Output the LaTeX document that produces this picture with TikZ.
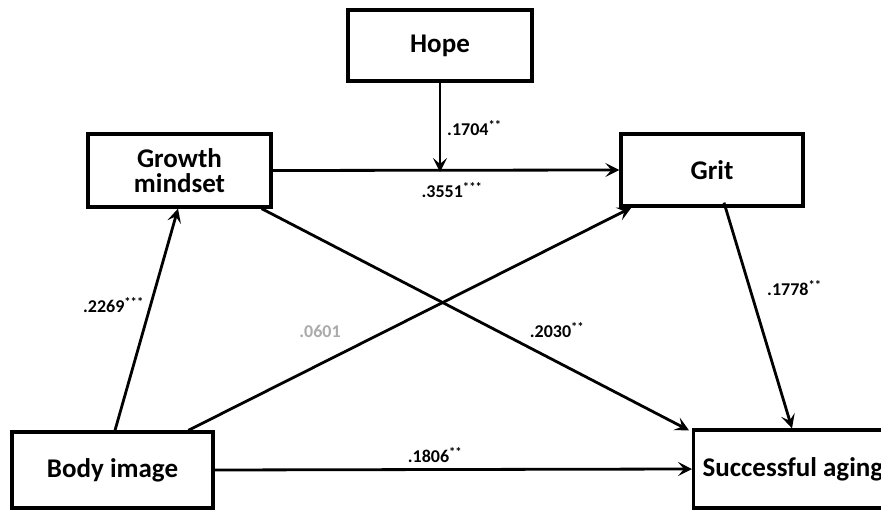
\documentclass[tikz,border=0pt]{standalone}
\usepackage{fontspec}
\setmainfont{Carlito}
\usetikzlibrary{arrows.meta,calc}
\tikzset{
  box/.style={draw, line width=3.3pt, fill=white, inner sep=0pt, align=center,
    font=\fontsize{27}{25}\selectfont\bfseries},
  arr/.style={line width=2.8pt, -{Stealth[length=14pt,width=14pt,inset=6pt]}},
  lab/.style={inner sep=0pt, font=\fontsize{18}{20}\selectfont\bfseries},
  gray lab/.style={lab, text=black!33}
}
\begin{document}
\begin{tikzpicture}[x=1pt,y=-1pt]
\useasboundingbox (0,0) rectangle (881,510);
\clip (0,0) rectangle (881,510);
\fill[white] (0,0) rectangle (881,510);
% boxes
\node[box, minimum width=184pt, minimum height=71pt] (hope) at (440,45.5) {Hope};
\node[box, minimum width=183pt, minimum height=73pt] (growth) at (179.5,170.5) {Growth\\mindset};
\node[box, minimum width=201pt, minimum height=76pt] (body) at (112.5,470) {Body image};
\node[box, minimum width=182pt, minimum height=72pt] (grit) at (712,170) {Grit};
\node[box, anchor=west, minimum height=78pt, inner xsep=9pt] (succ) at (692,469) {\makebox[200pt][l]{Successful aging}};
% connectors
\draw[arr] (growth.east) -- (grit.west);
\draw[arr] (hope.south) -- ([yshift=-1.5pt]hope.south |- growth.east);
\draw[arr] ([xshift=2.5pt]body.north) -- ([xshift=-1.5pt]growth.south);
\draw[arr] ([xshift=178pt]body.north west) -- ([xshift=12pt]grit.south west);
\draw[arr] ([xshift=-11pt]growth.south east) -- ([xshift=-3pt,yshift=-2pt]succ.north west);
\draw[arr] ([xshift=12pt,yshift=5pt]grit.south) -- ([xshift=100pt]succ.north west);
\draw[arr] (body.east) -- (succ.west);
% labels
\node[lab, anchor=west] (l1704) at (447,128) {.1704\textsuperscript{**}};
\node[lab] (l3551) at (452,190) {.3551\textsuperscript{***}};
\node[lab, anchor=east] (l2269) at (144,305) {.2269\textsuperscript{***}};
\node[gray lab] (l0601) at (320,331) {.0601};
\node[lab] (l2030) at (557,330) {.2030\textsuperscript{**}};
\node[lab] (l1806) at (435,455) {.1806\textsuperscript{**}};
\node[lab, anchor=west] (l1778) at (767,288) {.1778\textsuperscript{**}};
\end{tikzpicture}
\end{document}
